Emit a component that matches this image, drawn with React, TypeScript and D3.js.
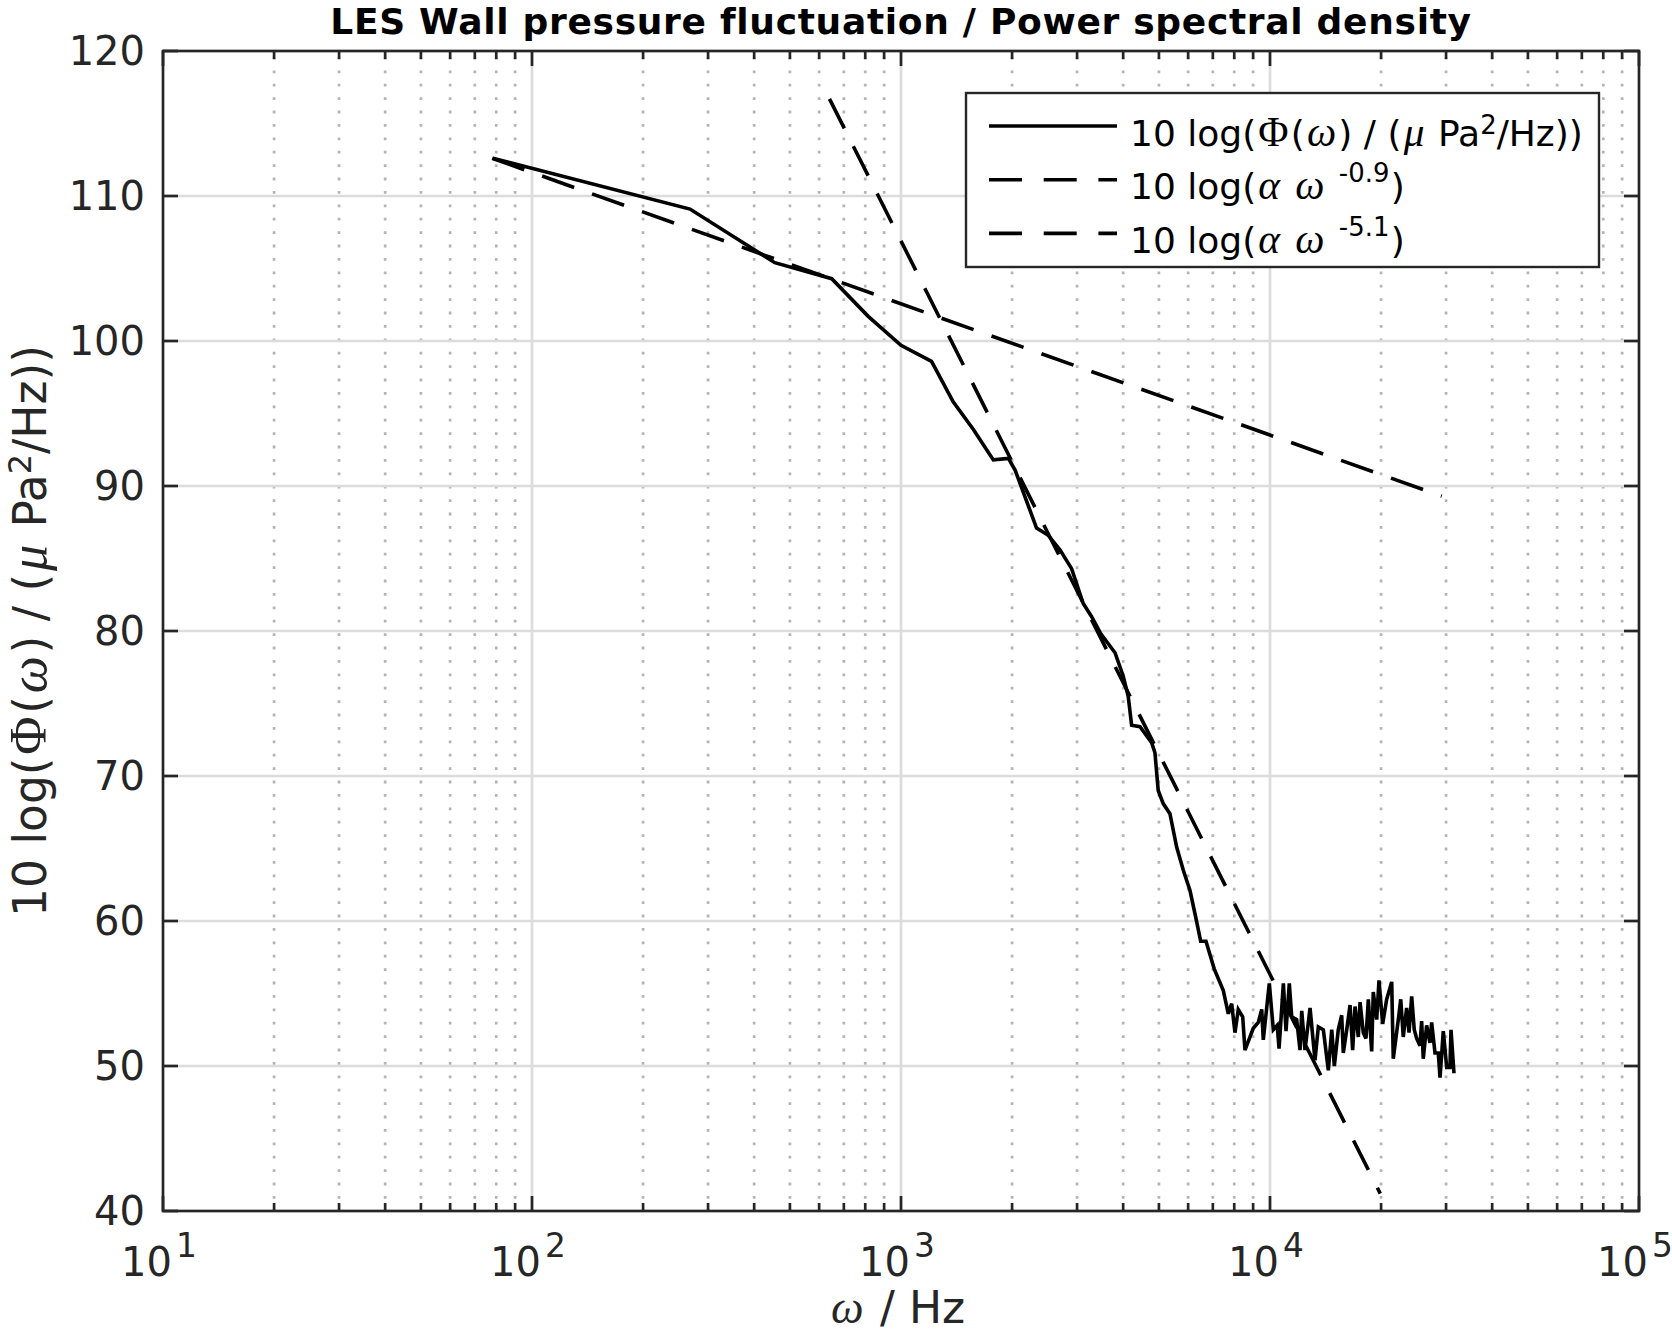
import React, { useRef, useEffect } from 'react';
import * as d3 from 'd3';

// solid curve: wall pressure PSD
const spectrumHz = [
  78.3, 268, 455, 649, 815, 1000, 1210, 1385, 1571, 1779,
  1955, 2038, 2330, 2506, 2696, 2900, 3118, 3283, 3480, 3802,
  4000, 4128, 4217, 4443, 4778, 4878, 4978, 5136, 5356, 5585,
  5822, 6070, 6262, 6489, 6707, 7060, 7473, 7709, 7873, 8036,
  8204, 8433, 8554, 9008, 9295, 9495, 9590, 9956, 10210, 10460,
  10580, 10870, 11050, 11280, 11450, 11810, 12060, 12190, 12440, 12840,
  13240, 13520, 13950, 14390, 14700, 14940, 15310, 15640, 15800, 16140,
  16480, 16750, 17000, 17350, 17540, 17900, 18200, 18470, 18860, 19050,
  19460, 19740, 20200, 20710, 21370, 21580, 22270, 22610, 22970, 23460,
  23810, 24210, 24600, 24970, 25490, 25760, 26020, 26580, 27130, 27420,
  28000, 28580, 28890, 29490, 30120, 30740, 30940, 31520,
];
const spectrumDb = [
  112.6, 109.1, 105.4, 104.3, 101.7, 99.7, 98.6, 95.8, 93.9, 91.8,
  91.9, 91.1, 87.1, 86.6, 85.6, 84.3, 81.9, 81.0, 79.8, 78.5,
  76.9, 75.5, 73.5, 73.4, 72.3, 71.6, 69.0, 68.1, 67.4, 65.1,
  63.5, 62.1, 60.5, 58.6, 58.6, 56.7, 55.2, 53.6, 54.3, 52.3,
  53.9, 53.4, 51.1, 52.6, 53.0, 53.9, 51.8, 55.7, 52.5, 52.8,
  51.2, 55.7, 52.4, 55.7, 53.4, 53.2, 51.1, 53.8, 51.1, 54.0,
  50.4, 52.7, 52.5, 49.7, 52.5, 50.0, 52.5, 53.5, 50.9, 52.5,
  54.2, 51.1, 54.1, 52.0, 54.4, 52.3, 51.9, 54.6, 51.0, 55.1,
  53.2, 55.9, 52.9, 54.6, 55.8, 50.5, 53.2, 54.6, 52.0, 54.0,
  52.3, 54.8, 52.5, 51.9, 51.4, 53.1, 50.5, 52.8, 51.6, 53.0,
  50.9, 50.9, 49.2, 52.4, 49.9, 49.9, 52.5, 49.5,
];

// power-law fits (straight in log-log), end points
const fitLowHz = [78, 29200];
const fitLowDb = [112.6, 89.3];
const fitHighHz = [640, 19900];
const fitHighDb = [116.7, 41.2];

const yTicks = [40, 50, 60, 70, 80, 90, 100, 110, 120];
const xDecades = [1, 2, 3, 4, 5];
const minorMult = [2, 3, 4, 5, 6, 7, 8, 9];

const titleText = 'LES Wall pressure fluctuation / Power spectral density';

const SANS = '"DejaVu Sans", sans-serif';
const SERIF = '"Liberation Serif", serif';
const AX = '#262626';

type Part = { t: string; serif?: boolean; italic?: boolean; raise?: number; dx?: number; scale?: number };

// TeX-ish label: 10 log(\Phi(\omega) / (\mu Pa^2/Hz))
const psdLabel: Part[] = [
  { t: '10 log(' },
  { t: 'Φ', serif: true, dx: 0.06 },
  { t: '(', dx: 0.06 },
  { t: 'ω', serif: true, italic: true, dx: 0.06 },
  { t: ') / (', dx: 0.06 },
  { t: 'μ', serif: true, italic: true, dx: 0.06 },
  { t: ' Pa', dx: 0.06 },
  { t: '2', raise: 0.32 },
  { t: '/Hz))' },
];
const fitLabel = (exp: string): Part[] => [
  { t: '10 log(' },
  { t: 'α', serif: true, italic: true, dx: 0.06 },
  { t: 'ω', serif: true, italic: true, dx: 0.42 },
  { t: exp, raise: 0.47, dx: 0.4 },
  { t: ')', dx: 0.04 },
];

function rich(sel: any, parts: Part[], size: number, supScale: number) {
  let shift = 0;
  parts.forEach(p => {
    const ts = sel.append('tspan').text(p.t);
    const want = (p.raise || 0) * size;
    if (want !== shift) ts.attr('dy', -(want - shift));
    shift = want;
    if (p.serif) ts.attr('font-family', SERIF).attr('font-size', size * (p.scale || 1.15));
    if (p.italic) ts.attr('font-style', 'italic');
    if (p.raise) ts.attr('font-size', size * supScale);
    if (p.dx) ts.attr('dx', p.dx * size);
  });
}

const width = 1672;
const height = 1334;
const plot = { left: 163, right: 1639, top: 51, bottom: 1211 };

const App: React.FC = () => {
  const svgRef = useRef<SVGSVGElement | null>(null);

  useEffect(() => {
    if (!svgRef.current) return;
    const svg = d3.select(svgRef.current);
    svg.selectAll('*').remove();

    const x = d3.scaleLog().domain([10, 1e5]).range([plot.left, plot.right]);
    const y = d3.scaleLinear().domain([40, 120]).range([plot.bottom, plot.top]);

    svg.append('rect').attr('width', width).attr('height', height).attr('fill', '#fff');

    // grid
    const grid = svg.append('g');
    const minorVals: number[] = [];
    xDecades.slice(0, -1).forEach(e => minorMult.forEach(m => minorVals.push(m * 10 ** e)));
    grid.selectAll('line.minor')
      .data(minorVals)
      .join('line')
      .attr('x1', d => x(d)).attr('x2', d => x(d))
      .attr('y1', plot.top + 6).attr('y2', plot.bottom)
      .attr('stroke', '#b4b4b4').attr('stroke-width', 2.7)
      .attr('stroke-dasharray', '2.8,10.6');
    grid.selectAll('line.vmajor')
      .data(xDecades.slice(1, -1).map(e => 10 ** e))
      .join('line')
      .attr('x1', d => x(d)).attr('x2', d => x(d))
      .attr('y1', plot.top).attr('y2', plot.bottom)
      .attr('stroke', '#dcdcdc').attr('stroke-width', 2.7);
    grid.selectAll('line.hmajor')
      .data(yTicks.slice(1, -1))
      .join('line')
      .attr('x1', plot.left).attr('x2', plot.right)
      .attr('y1', d => y(d)).attr('y2', d => y(d))
      .attr('stroke', '#dcdcdc').attr('stroke-width', 2.7);

    // data
    const line = d3.line<[number, number]>().x(d => x(d[0])).y(d => y(d[1]));
    const zip = (a: number[], b: number[]) => a.map((v, i) => [v, b[i]] as [number, number]);

    svg.append('path')
      .attr('d', line(zip(fitLowHz, fitLowDb)))
      .attr('fill', 'none').attr('stroke', '#000').attr('stroke-width', 3.6)
      .attr('stroke-dasharray', '34,19');
    svg.append('path')
      .attr('d', line(zip(fitHighHz, fitHighDb)))
      .attr('fill', 'none').attr('stroke', '#000').attr('stroke-width', 3.6)
      .attr('stroke-dasharray', '33,20');
    svg.append('path')
      .attr('d', line(zip(spectrumHz, spectrumDb)))
      .attr('fill', 'none').attr('stroke', '#000').attr('stroke-width', 3.6)
      .attr('stroke-linejoin', 'miter').attr('stroke-miterlimit', 3);

    // axes box & ticks
    const ax = svg.append('g').attr('stroke', AX).attr('stroke-width', 2.7);
    ax.append('rect')
      .attr('x', plot.left).attr('y', plot.top)
      .attr('width', plot.right - plot.left).attr('height', plot.bottom - plot.top)
      .attr('fill', 'none');
    const xt = [
      ...xDecades.map(e => ({ v: 10 ** e, len: 15 })),
      ...minorVals.map(v => ({ v, len: 8 })),
    ];
    xt.forEach(t => {
      ax.append('line').attr('x1', x(t.v)).attr('x2', x(t.v))
        .attr('y1', plot.bottom).attr('y2', plot.bottom - t.len);
      ax.append('line').attr('x1', x(t.v)).attr('x2', x(t.v))
        .attr('y1', plot.top).attr('y2', plot.top + t.len);
    });
    yTicks.forEach(v => {
      ax.append('line').attr('x1', plot.left).attr('x2', plot.left + 15)
        .attr('y1', y(v)).attr('y2', y(v));
      ax.append('line').attr('x1', plot.right).attr('x2', plot.right - 15)
        .attr('y1', y(v)).attr('y2', y(v));
    });

    // tick labels
    const tl = svg.append('g').attr('font-family', SANS).attr('fill', AX);
    yTicks.forEach(v => {
      tl.append('text')
        .attr('x', 145).attr('y', y(v)).attr('dy', '0.36em')
        .attr('text-anchor', 'end').attr('font-size', 40)
        .text(String(v));
    });
    xDecades.forEach(e => {
      const t = tl.append('text')
        .attr('x', x(10 ** e) - 4).attr('y', 1276)
        .attr('text-anchor', 'middle').attr('font-size', 40);
      rich(t, [{ t: '10' }, { t: String(e), raise: 0.48, dx: 0.1 }], 40, 0.82);
    });

    // axis labels
    const xl = svg.append('text')
      .attr('x', 898).attr('y', 1323)
      .attr('text-anchor', 'middle').attr('font-family', SANS)
      .attr('font-size', 44).attr('fill', AX);
    rich(xl, [{ t: 'ω', serif: true, italic: true, scale: 1.05 }, { t: ' / Hz', dx: 0.06 }], 44, 0.7);

    const yl = svg.append('text')
      .attr('transform', `translate(46,${(plot.top + plot.bottom) / 2}) rotate(-90)`)
      .attr('text-anchor', 'middle').attr('font-family', SANS)
      .attr('font-size', 45.5).attr('fill', AX);
    rich(yl, psdLabel, 45.5, 0.7);

    // title
    svg.append('text')
      .attr('x', (plot.left + plot.right) / 2).attr('y', 34)
      .attr('text-anchor', 'middle').attr('font-family', SANS)
      .attr('font-weight', 'bold').attr('font-size', 36)
      .attr('letter-spacing', 0.7).attr('fill', '#000')
      .text(titleText);

    // legend
    const lg = svg.append('g');
    lg.append('rect')
      .attr('x', 966).attr('y', 93).attr('width', 633).attr('height', 174)
      .attr('fill', '#fff').attr('stroke', AX).attr('stroke-width', 2.4);
    const rows = [
      { parts: psdLabel, dash: null as string | null },
      { parts: fitLabel('-0.9'), dash: '33,21.7' },
      { parts: fitLabel('-5.1'), dash: '33,21.7' },
    ];
    rows.forEach((r, i) => {
      const ly = 126 + i * 53.7;
      const l = lg.append('line')
        .attr('x1', 989).attr('x2', 1117).attr('y1', ly).attr('y2', ly)
        .attr('stroke', '#000').attr('stroke-width', 3.6);
      if (r.dash) l.attr('stroke-dasharray', r.dash);
      const t = lg.append('text')
        .attr('x', 1130).attr('y', ly + 19.5)
        .attr('font-family', SANS).attr('font-size', 36).attr('fill', '#000');
      rich(t, r.parts, 36, 0.72);
    });
  }, []);

  return (
    <div style={{ position: 'absolute', left: 0, top: 0 }}>
      <svg ref={svgRef} width={width} height={height}></svg>
    </div>
  );
};

export default App;
